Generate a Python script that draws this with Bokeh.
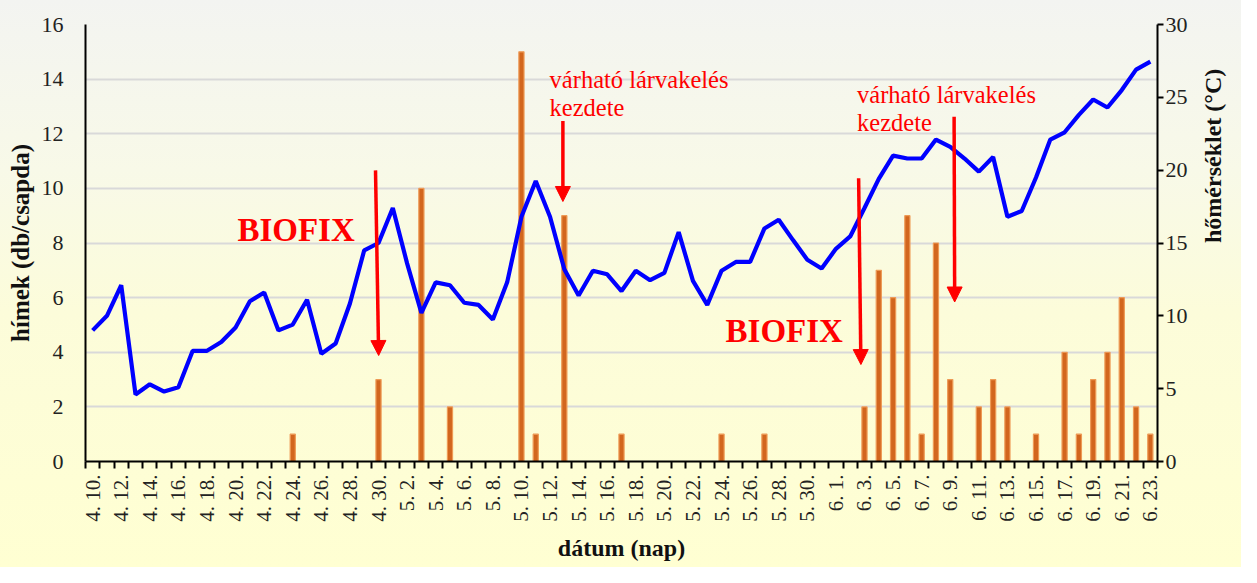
from math import pi
from bokeh.plotting import figure
from bokeh.models import (Range1d, LinearAxis, FixedTicker, Arrow, NormalHead,
                          Label, ColumnDataSource)
from bokeh.embed import file_html
from bokeh.resources import INLINE

# ---------------- data ----------------
dates = ["4. 10.", "4. 11.", "4. 12.", "4. 13.", "4. 14.", "4. 15.", "4. 16.", "4. 17.",
         "4. 18.", "4. 19.", "4. 20.", "4. 21.", "4. 22.", "4. 23.", "4. 24.", "4. 25.",
         "4. 26.", "4. 27.", "4. 28.", "4. 29.", "4. 30.",
         "5. 1.", "5. 2.", "5. 3.", "5. 4.", "5. 5.", "5. 6.", "5. 7.", "5. 8.", "5. 9.",
         "5. 10.", "5. 11.", "5. 12.", "5. 13.", "5. 14.", "5. 15.", "5. 16.", "5. 17.",
         "5. 18.", "5. 19.", "5. 20.", "5. 21.", "5. 22.", "5. 23.", "5. 24.", "5. 25.",
         "5. 26.", "5. 27.", "5. 28.", "5. 29.", "5. 30.", "5. 31.",
         "6. 1.", "6. 2.", "6. 3.", "6. 4.", "6. 5.", "6. 6.", "6. 7.", "6. 8.", "6. 9.",
         "6. 10.", "6. 11.", "6. 12.", "6. 13.", "6. 14.", "6. 15.", "6. 16.", "6. 17.",
         "6. 18.", "6. 19.", "6. 20.", "6. 21.", "6. 22.", "6. 23."]

himek = [0, 0, 0, 0, 0, 0, 0, 0, 0, 0, 0, 0, 0, 0, 1, 0, 0, 0, 0, 0, 3,
         0, 0, 10, 0, 2, 0, 0, 0, 0, 15, 1, 0, 9, 0, 0, 0, 1, 0, 0, 0, 0, 0, 0, 1, 0,
         0, 1, 0, 0, 0, 0,
         0, 0, 2, 7, 6, 9, 1, 8, 3, 0, 2, 3, 2, 0, 1, 0, 4, 1, 3, 4, 6, 2, 1]

homerseklet = [9.0, 10.0, 12.1, 4.6, 5.3, 4.8, 5.1, 7.6, 7.6, 8.2, 9.2, 11.0, 11.6, 9.0,
               9.4, 11.1, 7.4, 8.1, 10.85, 14.5, 15.0,
               17.4, 13.6, 10.2, 12.3, 12.1, 10.9, 10.75, 9.75, 12.3, 16.8, 19.25, 16.8,
               13.2, 11.4, 13.1, 12.85, 11.7, 13.1, 12.45, 12.95, 15.75, 12.4, 10.75,
               13.1, 13.7, 13.7, 16.0, 16.6, 15.2, 13.85, 13.25,
               14.6, 15.45, 17.4, 19.4, 21.0, 20.8, 20.8, 22.1, 21.6, 20.8, 19.9, 20.9,
               16.8, 17.2, 19.5, 22.1, 22.6, 23.8, 24.85, 24.3, 25.5, 26.9, 27.45]

left_ticks = [0, 2, 4, 6, 8, 10, 12, 14, 16]
right_ticks = [0, 5, 10, 15, 20, 25, 30]

# ---------------- figure ----------------
FONT = "Liberation Serif"
n = len(dates)
xs = [i + 0.5 for i in range(n)]
src = ColumnDataSource(dict(x=xs, himek=himek, temp=homerseklet))

p = figure(width=1241, height=567, output_backend="svg", toolbar_location=None,
           x_range=Range1d(0, n), y_range=Range1d(0, 16),
           min_border_left=85, min_border_right=83, min_border_top=24,
           min_border_bottom=106)
p.extra_y_ranges = {"temp": Range1d(0, 30)}
p.background_fill_color = None
p.border_fill_color = None
p.outline_line_color = None
p.styles = {"background": "linear-gradient(to bottom, #F3F4F1 0%, #F8F9E8 30%, "
                          "#FCFCDA 55%, #FFFFD2 100%)"}

# grid
p.xgrid.visible = False
p.ygrid.ticker = FixedTicker(ticks=left_ticks)
p.ygrid.grid_line_color = "#D9D9D9"
p.ygrid.grid_line_width = 2

# left axis
ya = p.yaxis[0]
ya.ticker = FixedTicker(ticks=left_ticks)
ya.major_tick_out = 0
ya.major_tick_in = 0
ya.minor_tick_line_color = None
ya.axis_line_color = "black"
ya.axis_line_width = 2
ya.major_label_text_font = FONT
ya.major_label_text_font_size = "22px"
ya.major_label_text_color = "#222222"
ya.major_label_standoff = 22
ya.axis_label = "hímek (db/csapda)"
ya.axis_label_text_font = FONT
ya.axis_label_text_font_style = "bold"
ya.axis_label_text_font_size = "25px"
ya.axis_label_text_color = "#111111"
ya.axis_label_standoff = 5

# right axis
ra = LinearAxis(y_range_name="temp", ticker=FixedTicker(ticks=right_ticks))
ra.major_tick_out = 6
ra.major_tick_in = 0
ra.major_tick_line_width = 2
ra.minor_tick_line_color = None
ra.axis_line_color = "black"
ra.axis_line_width = 2
ra.major_label_text_font = FONT
ra.major_label_text_font_size = "22px"
ra.major_label_text_color = "#222222"
ra.major_label_standoff = 2
ra.axis_label = "hőmérséklet (°C)"
ra.axis_label_text_font = FONT
ra.axis_label_text_font_style = "bold"
ra.axis_label_text_font_size = "24px"
ra.axis_label_text_color = "#111111"
ra.axis_label_standoff = 22
try:
    ra.axis_label_orientation = pi / 2
except Exception:
    pass
p.add_layout(ra, "right")

# bottom axis
label_pos = [xs[i] for i in range(0, n, 2)]
xa = p.xaxis[0]
xa.ticker = FixedTicker(ticks=label_pos, minor_ticks=list(range(0, n + 1)))
xa.major_label_overrides = {xs[i]: dates[i] for i in range(0, n, 2)}
xa.major_tick_line_color = None
xa.major_tick_out = 7
xa.major_tick_in = 0
xa.minor_tick_out = 7
xa.minor_tick_in = 0
xa.minor_tick_line_color = "black"
xa.minor_tick_line_width = 2
xa.axis_line_color = "black"
xa.axis_line_width = 2
xa.major_label_orientation = pi / 2
xa.major_label_text_font = FONT
xa.major_label_text_font_size = "21px"
xa.major_label_text_color = "#222222"
xa.major_label_standoff = 6
xa.axis_label = "dátum (nap)"
xa.axis_label_text_font = FONT
xa.axis_label_text_font_style = "bold"
xa.axis_label_text_font_size = "24px"
xa.axis_label_text_color = "#111111"
xa.axis_label_standoff = 10

# bars (left axis)
p.vbar(x="x", top="himek", width=0.36, source=src, fill_color="#D2661E",
       line_color="#EE9A55", line_width=1.2)

# temperature line (right axis)
p.line(x="x", y="temp", source=src, y_range_name="temp", line_color="#0000FF",
       line_width=4.2)

# annotations
arrows = [(20.29, 10.66, 20.51, 3.88),
          (33.40, 12.47, 33.40, 9.52),
          (54.09, 10.37, 54.25, 3.55),
          (60.77, 12.62, 60.81, 5.84)]
for x0, y0, x1, y1 in arrows:
    p.add_layout(Arrow(end=NormalHead(size=15, fill_color="#FF0000", line_color="#FF0000",
                                      line_width=1),
                       x_start=x0, y_start=y0, x_end=x1, y_end=y1,
                       line_color="#FF0000", line_width=3.5))

for x0, y0 in [(10.63, 8.49), (44.78, 4.78)]:
    p.add_layout(Label(x=x0, y=y0, text="BIOFIX", text_font=FONT, text_font_style="bold",
                       text_font_size="33px", text_color="#FF0000",
                       text_baseline="alphabetic"))

for x0, y0, y1 in [(32.47, 13.97, 12.97), (53.98, 13.45, 12.40)]:
    p.add_layout(Label(x=x0, y=y0, text="várható lárvakelés", text_font=FONT,
                       text_font_size="24.5px", text_color="#FF0000",
                       text_baseline="alphabetic"))
    p.add_layout(Label(x=x0, y=y1, text="kezdete", text_font=FONT,
                       text_font_size="24.5px", text_color="#FF0000",
                       text_baseline="alphabetic"))

open("out.html", "w").write(file_html(p, INLINE))
